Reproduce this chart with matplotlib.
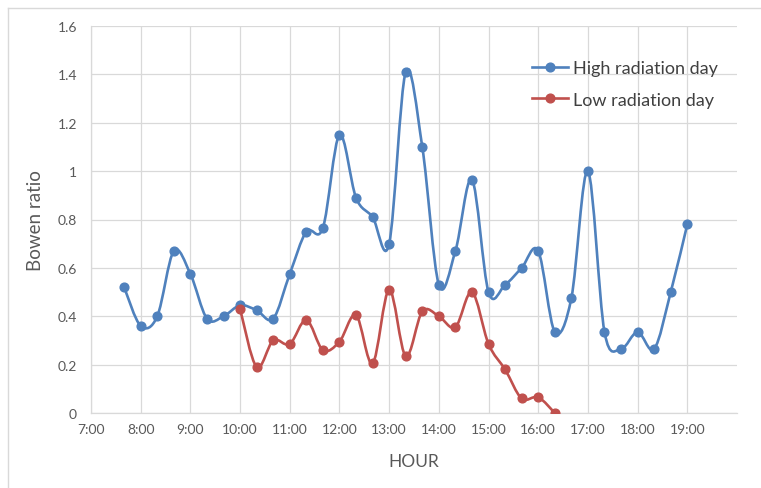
import numpy as np
import matplotlib
matplotlib.use("Agg")
import matplotlib.pyplot as plt
from matplotlib.path import Path
from matplotlib.patches import PathPatch
from matplotlib.lines import Line2D

plt.rcParams['font.family'] = ['Lato', 'DejaVu Sans']

# ---- data ----
high_times = ["7:40", "8:00", "8:20", "8:40", "9:00", "9:20", "9:40", "10:00", "10:20", "10:40",
              "11:00", "11:20", "11:40", "12:00", "12:20", "12:40", "13:00", "13:20", "13:40",
              "14:00", "14:20", "14:40", "15:00", "15:20", "15:40", "16:00", "16:20", "16:40",
              "17:00", "17:20", "17:40", "18:00", "18:20", "18:40", "19:00"]
high_values = [0.52, 0.36, 0.40, 0.67, 0.575, 0.39, 0.40, 0.445, 0.425, 0.39,
               0.575, 0.75, 0.765, 1.15, 0.89, 0.81, 0.70, 1.41, 1.10,
               0.53, 0.67, 0.965, 0.50, 0.53, 0.60, 0.67, 0.335, 0.475,
               1.0, 0.335, 0.265, 0.335, 0.265, 0.50, 0.78]
low_times = ["10:00", "10:20", "10:40", "11:00", "11:20", "11:40", "12:00", "12:20", "12:40",
             "13:00", "13:20", "13:40", "14:00", "14:20", "14:40", "15:00", "15:20", "15:40",
             "16:00", "16:20"]
low_values = [0.43, 0.19, 0.30, 0.285, 0.385, 0.26, 0.295, 0.405, 0.205,
              0.51, 0.235, 0.42, 0.40, 0.355, 0.50, 0.285, 0.18, 0.06,
              0.065, 0.0]
tick_labels = ["7:00", "8:00", "9:00", "10:00", "11:00", "12:00", "13:00",
               "14:00", "15:00", "16:00", "17:00", "18:00", "19:00"]
y_ticks = [0, 0.2, 0.4, 0.6, 0.8, 1, 1.2, 1.4, 1.6]

series = [("High radiation day", high_times, high_values, "#4F81BD"),
          ("Low radiation day", low_times, low_values, "#C0504D")]


def to_hours(t):
    h, m = t.split(":")
    return int(h) + int(m) / 60.0


def smooth_path(x, y):
    p = np.column_stack([x, y])
    n = len(p)
    verts = [p[0]]
    codes = [Path.MOVETO]
    for i in range(n - 1):
        p0 = p[i - 1] if i > 0 else p[i]
        p1 = p[i]
        p2 = p[i + 1]
        p3 = p[i + 2] if i + 2 < n else p[i + 1]
        c1 = p1 + (p2 - p0) / 6.0
        c2 = p2 - (p3 - p1) / 6.0
        verts += [c1, c2, p2]
        codes += [Path.CURVE4] * 3
    return Path(verts, codes)


W, H = 761, 489
fig = plt.figure(figsize=(W / 100, H / 100), dpi=100)
L, R, T, B = 91, 737, 27, 414
ax = fig.add_axes([L / W, 1 - B / H, (R - L) / W, (B - T) / H])

grid_c = "#D9D9D9"
text_c = "#595959"

handles = []
for name, times, vals, col in series:
    xs = np.array([to_hours(t) for t in times])
    ys = np.array(vals)
    patch = PathPatch(smooth_path(xs, ys), facecolor="none", edgecolor=col,
                      lw=1.9, capstyle="round", joinstyle="round", zorder=3)
    ax.add_patch(patch)
    ax.plot(xs, ys, linestyle="none", marker="o", markersize=6.3, color=col, zorder=4)
    handles.append(Line2D([0], [0], color=col, lw=1.9, marker="o", markersize=6.3))

ax.set_xlim(7, 20)
ax.set_ylim(0, 1.6)
ax.set_xticks(range(7, 20))
ax.set_xticklabels(tick_labels)
ax.set_yticks(y_ticks)
ax.set_yticklabels(["0", "0.2", "0.4", "0.6", "0.8", "1", "1.2", "1.4", "1.6"])
ax.tick_params(axis="both", length=0, labelsize=10, colors=text_c)
ax.tick_params(axis="y", pad=10)
ax.tick_params(axis="x", pad=7)
ax.grid(True, color=grid_c, lw=0.9)
ax.set_axisbelow(True)
for s in ["top", "right"]:
    ax.spines[s].set_visible(False)
for s in ["left", "bottom"]:
    ax.spines[s].set_color(grid_c)
    ax.spines[s].set_linewidth(0.9)

ax.set_xlabel("HOUR", fontsize=12.5, color=text_c, labelpad=13)
ax.set_ylabel("Bowen ratio", fontsize=13.5, color=text_c, labelpad=10)

leg = fig.legend(handles, [s[0] for s in series], loc="upper left",
                 bbox_to_anchor=(516 / W, 1 - 45 / H), frameon=False,
                 fontsize=13, handlelength=2.0, handletextpad=0.25,
                 labelspacing=0.85, labelcolor="#404040")

# chart area border
fig.add_artist(Line2D([8 / W, 1], [1 - 9 / H, 1 - 9 / H], color=grid_c, lw=1))
fig.add_artist(Line2D([8 / W, 8 / W], [0, 1 - 9 / H], color=grid_c, lw=1))

fig.savefig("out.png", dpi=100)
